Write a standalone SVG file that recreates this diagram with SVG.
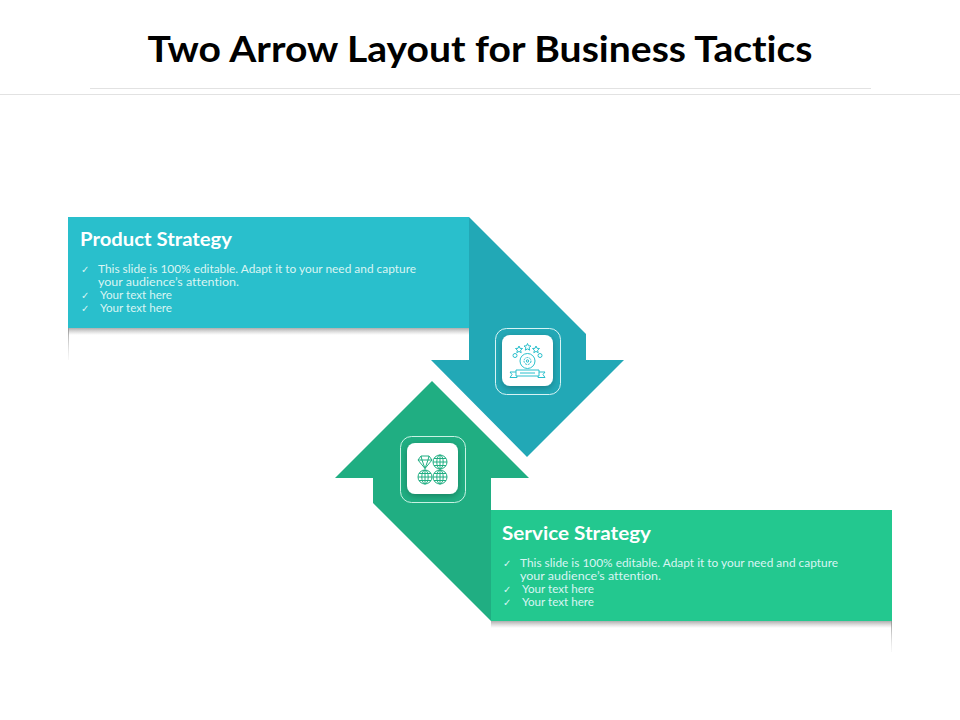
<svg xmlns="http://www.w3.org/2000/svg" width="960" height="720" viewBox="0 0 960 720">
<style>
.t{font-family:"Lato","Liberation Sans",sans-serif;font-variant-ligatures:none}
.h{font-size:18px;font-weight:700;fill:#fff}
.b{font-size:11.5px;fill:#d9f5f3}
.c{font-size:10px}
.ic{fill:none;stroke-width:1}
</style>
<defs>
<linearGradient id="sh" x1="0" y1="0" x2="0" y2="1"><stop offset="0" stop-color="#777" stop-opacity=".6"/><stop offset="1" stop-color="#999" stop-opacity="0"/></linearGradient>
<linearGradient id="v" x1="0" y1="0" x2="0" y2="1"><stop offset="0" stop-color="#999"/><stop offset="1" stop-color="#ddd" stop-opacity=".2"/></linearGradient>
<filter id="ds" x="-30%" y="-30%" width="160%" height="160%"><feDropShadow dx="0" dy="2" stdDeviation="3" flood-color="#000" flood-opacity=".25"/></filter>
<g id="globe" class="ic"><circle r="7"/><ellipse rx="3.2" ry="7"/><path d="M-7 0H7M-6 -3.500H6M-6 3.500H6M0 -7V7"/></g>
<path id="star" class="ic" d="M0 -3.500l1 2.300 2.500 .2-1.900 1.700 .6 2.500-2.200-1.300-2.200 1.300 .6-2.500-1.900-1.700 2.500-.2z"/>
</defs>
<rect width="960" height="720" fill="#fff"/>
<g id="title">
<text class="t" x="480" y="62" text-anchor="middle" font-size="36" font-weight="700" fill="#000" textLength="665" lengthAdjust="spacingAndGlyphs">Two Arrow Layout for Business Tactics</text>
<rect x="90" y="88" width="781" height="1" fill="#e2e2e2"/>
<rect x="0" y="94" width="960" height="1" fill="#e2e2e2"/>
</g>
<g id="connectors">
<polygon id="arrow-down" points="469,217 586,334 586,360 624,360 527,457 431,360 469,360" fill="#22a8b6"/>
<polygon id="arrow-up" points="432,381 529,478 491,478 491,621 373,503 373,478 335,478" fill="#20ae82"/>
</g>
<g id="node-product">
<rect x="68" y="328" width="401" height="7" fill="url(#sh)"/>
<rect x="68" y="328" width="1" height="32" fill="url(#v)"/>
<rect x="68" y="217" width="401" height="111" fill="#29bfcc"/>
<text class="t h" x="80" y="246" textLength="152" lengthAdjust="spacingAndGlyphs">Product Strategy</text>
<g class="t b">
<text class="c" x="81" y="273">✓</text>
<text x="98" y="273" textLength="318" lengthAdjust="spacingAndGlyphs">This slide is 100% editable. Adapt it to your need and capture</text>
<text x="98" y="286" textLength="141" lengthAdjust="spacingAndGlyphs">your audience’s attention.</text>
<text class="c" x="81" y="299">✓</text>
<text x="100" y="299" textLength="72" lengthAdjust="spacingAndGlyphs">Your text here</text>
<text class="c" x="81" y="312">✓</text>
<text x="100" y="312" textLength="72" lengthAdjust="spacingAndGlyphs">Your text here</text>
</g>
</g>
<g id="node-service">
<rect x="491" y="621" width="401" height="7" fill="url(#sh)"/>
<rect x="891" y="621" width="1" height="31" fill="url(#v)"/>
<rect x="491" y="510" width="401" height="111" fill="#23c88f"/>
<text class="t h" x="502" y="540" textLength="149" lengthAdjust="spacingAndGlyphs">Service Strategy</text>
<g class="t b">
<text class="c" x="503" y="567">✓</text>
<text x="520" y="567" textLength="318" lengthAdjust="spacingAndGlyphs">This slide is 100% editable. Adapt it to your need and capture</text>
<text x="520" y="580" textLength="141" lengthAdjust="spacingAndGlyphs">your audience’s attention.</text>
<text class="c" x="503" y="593">✓</text>
<text x="522" y="593" textLength="72" lengthAdjust="spacingAndGlyphs">Your text here</text>
<text class="c" x="503" y="606">✓</text>
<text x="522" y="606" textLength="72" lengthAdjust="spacingAndGlyphs">Your text here</text>
</g>
</g>
<g id="icon-product">
<rect x="495.500" y="328.500" width="65" height="66" rx="11" fill="none" stroke="#d8f4f5" stroke-width="1"/>
<rect x="502" y="335" width="51" height="51" rx="8" fill="#fff" filter="url(#ds)"/>
<g class="ic" stroke="#29bfcc">
<circle cx="527.500" cy="361" r="7.500"/><circle cx="527.500" cy="361" r="3.500" stroke-dasharray="2 1"/><circle cx="527.500" cy="361" r="1.200"/>
<use href="#star" x="527.500" y="347"/>
<use href="#star" x="519" y="349.500"/><use href="#star" x="536" y="349.500"/>
<circle cx="515" cy="355.500" r="2"/><circle cx="540" cy="355.500" r="2"/>
<path d="M516 370h23v6h-23zM516 372h-6l2 2.500-2 3h7v-1.500M539 372h6l-2 2.500 2 3h-7v-1.500M520 373h15"/>
</g>
</g>
<g id="icon-service">
<rect x="400.500" y="436.500" width="65" height="66" rx="11" fill="none" stroke="#c9f3e4" stroke-width="1"/>
<rect x="407" y="443" width="51" height="51" rx="8" fill="#fff" filter="url(#ds)"/>
<g stroke="#20ae82">
<path class="ic" d="M421 456h8l3 4-7 8.500-7-8.500zM418 460h14M422 460l3 8.500 3-8.500M421 456l1 4M429 456l-1 4"/>
<use href="#globe" x="440" y="462"/>
<use href="#globe" x="425" y="477"/>
<use href="#globe" x="440" y="477"/>
</g>
</g>
</svg>
